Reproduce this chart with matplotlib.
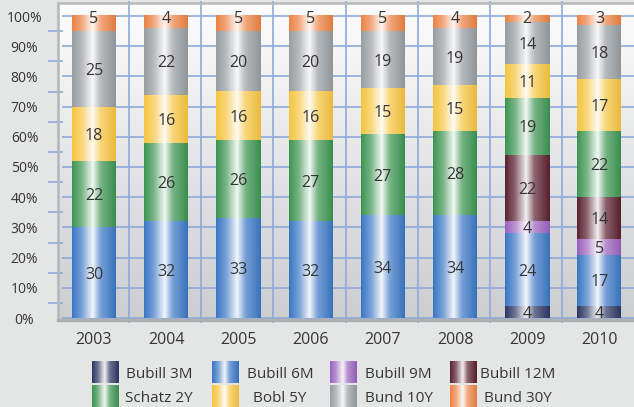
import numpy as np
import matplotlib
matplotlib.use('Agg')
import matplotlib.pyplot as plt
from matplotlib.colors import LinearSegmentedColormap, to_rgb
from matplotlib.transforms import blended_transform_factory

# ---------------- data ----------------
years = ['2003', '2004', '2005', '2006', '2007', '2008', '2009', '2010']
series_names = ['Bubill 3M', 'Bubill 6M', 'Bubill 9M', 'Bubill 12M',
                'Schatz 2Y', 'Bobl 5Y', 'Bund 10Y', 'Bund 30Y']
bubill_3m = [0, 0, 0, 0, 0, 0, 4, 4]
bubill_6m = [30, 32, 33, 32, 34, 34, 24, 17]
bubill_9m = [0, 0, 0, 0, 0, 0, 4, 5]
bubill_12m = [0, 0, 0, 0, 0, 0, 22, 14]
schatz_2y = [22, 26, 26, 27, 27, 28, 19, 22]
bobl_5y = [18, 16, 16, 16, 15, 15, 11, 17]
bund_10y = [25, 22, 20, 20, 19, 19, 14, 18]
bund_30y = [5, 4, 5, 5, 5, 4, 2, 3]
y_ticks = [0, 10, 20, 30, 40, 50, 60, 70, 80, 90, 100]
y_tick_labels = ['0%', '10%', '20%', '30%', '40%', '50%', '60%', '70%', '80%', '90%', '100%']

series_values = [bubill_3m, bubill_6m, bubill_9m, bubill_12m,
                 schatz_2y, bobl_5y, bund_10y, bund_30y]
series_colors = ['#2d3763', '#3b77c5', '#9a62be', '#5a2030',
                 '#3c9451', '#f7c440', '#979da1', '#ec8245']

FONT = 'Open Sans'
TXT = '#353535'
W, H = 634, 407


def grad_cmap(c):
    c = np.array(to_rgb(c))
    white = np.array([1.0, 1.0, 1.0])
    mid = c + (white - c) * 0.30
    hi = c + (white - c) * 0.93
    return LinearSegmentedColormap.from_list(
        'g', [(0.0, c), (0.22, mid), (0.47, hi), (0.66, mid), (1.0, c * 0.95)])


fig = plt.figure(figsize=(W / 100, H / 100), dpi=100)
fig.patch.set_facecolor('#e4e5e5')


def px(x0, y0, x1, y1):
    return [x0 / W, 1 - y1 / H, (x1 - x0) / W, (y1 - y0) / H]


# plot area: left 58px, right 635.5px, top 3px, bottom 320px ; 0% at 318px, 100% at 16px
AX_L, AX_R, AX_T, AX_B = 57.9, 635.5, 3, 320
ppu = 3.02
ymax = (318 - AX_T) / ppu
ymin = -(AX_B - 318) / ppu
ax = fig.add_axes(px(AX_L, AX_T, AX_R, AX_B))
ax.set_xlim(-0.5, 7.5)
ax.set_ylim(ymin, ymax)
ax.set_facecolor('none')

# wall gradient
wall = LinearSegmentedColormap.from_list('wall', ['#fdfdfd', '#cbcdcf'])
ax.imshow(np.linspace(0, 1, 256)[:, None], extent=[-0.5, 7.5, ymin, ymax],
          aspect='auto', cmap=wall, origin='upper', zorder=0)

grid_c = '#8eaad9'
# horizontal gridlines on back wall
x_start = -0.5 + 4 / 72.2
for v in y_ticks:
    ax.plot([x_start, 7.5], [v, v], color=grid_c, lw=1.2, zorder=1, solid_capstyle='butt')
# vertical gridlines
for k in range(1, 8):
    ax.plot([k - 0.5 - 0.015, k - 0.5 - 0.015], [ymin - 1.0, ymax + 0.7], color=grid_c, lw=1.2,
            zorder=1, clip_on=False, solid_capstyle='butt')

# minor ticks on the front edge at 5, 15, ... 95
tr = blended_transform_factory(ax.transAxes, ax.transData)
ax_w = AX_R - AX_L
for v in y_ticks[:-1]:
    ax.plot([(48 - AX_L) / ax_w, (63 - AX_L) / ax_w], [v + 5, v + 5], color=grid_c, lw=1.2,
            transform=tr, clip_on=False, zorder=1, solid_capstyle='butt')

for s in ['right']:
    ax.spines[s].set_visible(False)
ax.spines['left'].set_color('#b3b5b7')
ax.spines['left'].set_linewidth(1.8)
ax.spines['top'].set_color('#b8babc')
ax.spines['top'].set_linewidth(1.8)
ax.spines['bottom'].set_color('#adafb1')
ax.spines['bottom'].set_linewidth(2.5)
ax.set_xticks([])
ax.set_yticks([])

# ---------------- bars ----------------
x = np.arange(len(years))
bw = 44 / 72.2
bottom = np.zeros(len(years))
for name, vals, col in zip(series_names, series_values, series_colors):
    vals = np.array(vals, dtype=float)
    bars = ax.bar(x, vals, bw, bottom=bottom, color=col, linewidth=0, zorder=2)
    cm = grad_cmap(col)
    for rect, v in zip(bars.patches, vals):
        if v <= 0:
            continue
        x0, y0 = rect.get_x(), rect.get_y()
        ax.imshow(np.linspace(0, 1, 128)[None, :], extent=[x0, x0 + rect.get_width(), y0, y0 + rect.get_height()],
                  aspect='auto', cmap=cm, interpolation='bilinear', zorder=3)
    for xi, b, v in zip(x, bottom, vals):
        if v <= 0:
            continue
        yc = b + v / 2
        if name == 'Bund 30Y':
            yc = max(yc, b + v - 0.2)
        ax.text(xi, yc, f'{int(v)}', ha='center', va='center_baseline', fontsize=11.5,
                family=FONT, color=TXT, zorder=5)
    bottom = bottom + vals

ax.set_xlim(-0.5, 7.5)
ax.set_ylim(ymin, ymax)

# x labels
trx = blended_transform_factory(ax.transData, ax.transAxes)
ax_h = AX_B - AX_T
for xi, yr in zip(x, years):
    ax.text(xi, -(344 - AX_B) / ax_h, yr, ha='center', va='baseline', fontsize=11.5,
            family=FONT, color=TXT, transform=trx, clip_on=False)
# y labels
for v, lab in zip(y_ticks, y_tick_labels):
    ax.text((24.5 - AX_L) / ax_w, v, lab, ha='center', va='center_baseline', fontsize=10,
            family=FONT, color=TXT, transform=tr, clip_on=False)

# ---------------- legend ----------------
lg = fig.add_axes([0, 0, 1, 1])
lg.set_xlim(0, W)
lg.set_ylim(H, 0)
lg.axis('off')
lg.patch.set_alpha(0)
col_x = [92, 212, 330, 450]
row_y = [361, 385]
text_gap = [[7, 8, 8, 3], [6, 14, 8, 7]]
for i, (name, col) in enumerate(zip(series_names, series_colors)):
    r, c = divmod(i, 4)
    x0, y0 = col_x[c], row_y[r]
    lg.imshow(np.linspace(0, 1, 64)[None, :], extent=[x0, x0 + 27, y0 + 22, y0],
              aspect='auto', cmap=grad_cmap(col), interpolation='bilinear')
    lg.text(x0 + 27 + text_gap[r][c], y0 + 11, name, ha='left', va='center_baseline', fontsize=11,
            family=FONT, color=TXT)
lg.set_xlim(0, W)
lg.set_ylim(H, 0)

fig.savefig('out.png', dpi=100, facecolor=fig.get_facecolor())
